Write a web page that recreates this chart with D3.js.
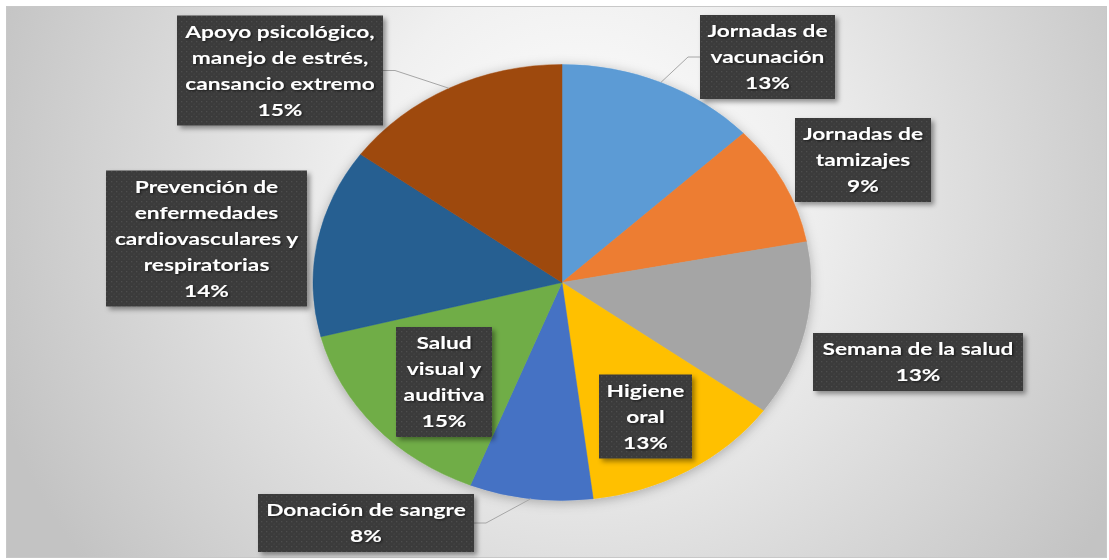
<!DOCTYPE html>
<html><head><meta charset="utf-8">
<script src="https://cdn.jsdelivr.net/npm/d3@7"></script>
<style>html,body{margin:0;padding:0;background:#fff;}svg{display:block;}</style>
</head><body>
<svg id="chart" width="1109" height="560"></svg>
<script>
// ---- data ----
const categories = ["Jornadas de vacunación","Jornadas de tamizajes","Semana de la salud","Higiene oral","Donación de sangre","Salud visual y auditiva","Prevención de enfermedades cardiovasculares y respiratorias","Apoyo psicológico, manejo de estrés, cansancio extremo"];
const values = [13, 9, 13, 13, 8, 15, 14, 15];
const labelLines = [
  ["Jornadas de","vacunación"],
  ["Jornadas de","tamizajes"],
  ["Semana de la salud"],
  ["Higiene","oral"],
  ["Donación de sangre"],
  ["Salud","visual y","auditiva"],
  ["Prevención de","enfermedades","cardiovasculares y","respiratorias"],
  ["Apoyo psicológico,","manejo de estrés,","cansancio extremo"]
];
const colors = ["#5B9BD5","#ED7D31","#A5A5A5","#FFC000","#4472C4","#70AD47","#255E91","#9E480E"];

// ---- layout ----
const W = 1109, H = 560;
const cx = 562, cy = 282.5, R = 249, ry = 218;
const yScale = ry / R;
// label box layout: center x, center y, box width, leader line side
const labelLayout = [
  {x: 767.5, y: 57,  w: 135, leader: "left"},
  {x: 863,   y: 160, w: 136},
  {x: 918,   y: 362, w: 210},
  {x: 645.5, y: 416.5, w: 93},
  {x: 366,   y: 523, w: 216, leader: "right"},
  {x: 444,   y: 382, w: 96},
  {x: 206.5, y: 238.5, w: 201},
  {x: 280,   y: 70.5, w: 206, leader: "right"}
];
const lineH = 26;
const fontFamily = "Lato, 'Open Sans', sans-serif";
const fontSize = 17.5;

const svg = d3.select("#chart");
const defs = svg.append("defs");

const bg = defs.append("radialGradient").attr("id","bg")
  .attr("gradientUnits","userSpaceOnUse").attr("cx",580).attr("cy",190).attr("r",620);
bg.append("stop").attr("offset","0").attr("stop-color","#ffffff");
bg.append("stop").attr("offset","0.35").attr("stop-color","#f0f0f0");
bg.append("stop").attr("offset","1").attr("stop-color","#c3c3c3");

const pat = defs.append("pattern").attr("id","dots").attr("patternUnits","userSpaceOnUse")
  .attr("width",5).attr("height",5);
pat.append("rect").attr("width",5).attr("height",5).attr("fill","#3b3b3b");
pat.append("rect").attr("x",1).attr("y",1).attr("width",1.3).attr("height",1.3).attr("fill","#4d4d4d");
pat.append("rect").attr("x",3.5).attr("y",3.5).attr("width",1.2).attr("height",1.2).attr("fill","#474747");

const pieShadow = defs.append("filter").attr("id","pieShadow")
  .attr("x","-20%").attr("y","-20%").attr("width","140%").attr("height","140%");
pieShadow.append("feDropShadow").attr("dx",0).attr("dy",2).attr("stdDeviation",6)
  .attr("flood-color","#000").attr("flood-opacity",0.28);

const boxShadow = defs.append("filter").attr("id","boxShadow")
  .attr("x","-20%").attr("y","-20%").attr("width","140%").attr("height","140%");
boxShadow.append("feDropShadow").attr("dx",3).attr("dy",3).attr("stdDeviation",2.5)
  .attr("flood-color","#000").attr("flood-opacity",0.4);

const txtShadow = defs.append("filter").attr("id","txtShadow")
  .attr("x","-10%").attr("y","-30%").attr("width","120%").attr("height","160%");
txtShadow.append("feDropShadow").attr("dx",1).attr("dy",1).attr("stdDeviation",0.8)
  .attr("flood-color","#000").attr("flood-opacity",0.6);

// frame
svg.append("rect").attr("x",6.5).attr("y",6.5).attr("width",1100).attr("height",551)
  .attr("fill","url(#bg)").attr("stroke","#c8c8c8").attr("stroke-width",1);

// pie
const pie = d3.pie().sort(null).value(d => d)(values);
const arc = d3.arc().innerRadius(0).outerRadius(R);

const pg = svg.append("g").attr("filter","url(#pieShadow)")
  .append("g").attr("transform",`translate(${cx},${cy}) scale(1,${yScale})`);
pg.selectAll("path").data(pie).join("path")
  .attr("d", arc).attr("fill",(d,i)=>colors[i])
  .attr("stroke",(d,i)=>colors[i]).attr("stroke-width",0.5);

function edgePoint(d){
  const a = (d.startAngle + d.endAngle)/2;
  return [cx + R*Math.sin(a), cy - ry*Math.cos(a)];
}

// horizontal stretch of text (the reference is widened horizontally)
const probe = svg.append("text").attr("font-family",fontFamily)
  .attr("font-weight",700).attr("font-size",fontSize).text("Semana de la salud");
const sx = 191 / probe.node().getComputedTextLength();
probe.remove();

const lg = svg.append("g");
pie.forEach((d,i) => {
  const L = labelLayout[i];
  const lines = labelLines[i].concat([values[i] + "%"]);
  const h = lines.length*lineH + 6;
  const x0 = L.x - L.w/2, y0 = L.y - h/2;
  if (L.leader) {
    const [ex, ey] = edgePoint(d);
    const sxp = L.leader === "right" ? x0 + L.w : x0;
    const kx = L.leader === "right" ? sxp + 12 : sxp - 12;
    lg.append("polyline").attr("points", `${ex},${ey} ${kx},${L.y} ${sxp},${L.y}`)
      .attr("fill","none").attr("stroke","#a6a6a6").attr("stroke-width",1);
  }
  const g = lg.append("g");
  g.append("rect").attr("x",x0).attr("y",y0).attr("width",L.w).attr("height",h)
    .attr("fill","url(#dots)").attr("filter","url(#boxShadow)");
  const t = g.append("text").attr("font-family",fontFamily)
    .attr("font-weight",700).attr("font-size",fontSize).attr("fill","#ffffff")
    .attr("text-anchor","middle").attr("filter","url(#txtShadow)")
    .attr("transform",`translate(${L.x},0) scale(${sx},1)`);
  lines.forEach((ln,k) => {
    t.append("tspan").attr("x",0)
      .attr("y", L.y - (lines.length-1)*lineH/2 + k*lineH + 6.5)
      .text(ln);
  });
});
</script>
</body></html>
